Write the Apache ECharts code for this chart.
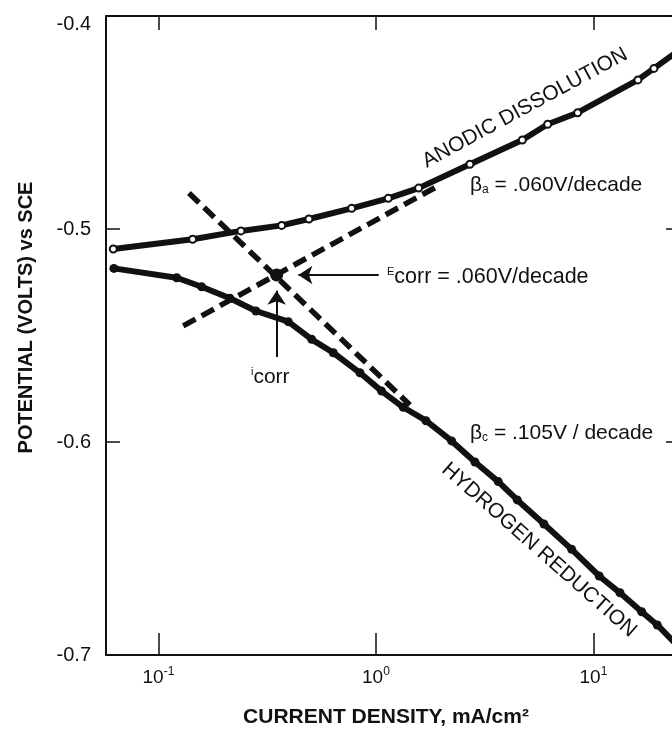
<!DOCTYPE html>
<html><head><meta charset="utf-8">
<script src="https://cdn.jsdelivr.net/npm/echarts@6/dist/echarts.min.js"></script>
<style>html,body{margin:0;padding:0;background:#fff}#c{width:672px;height:733px}</style>
</head><body><div id="c"></div>
<script>
// ---- data ----
const anodicCurrent = [0.0620, 0.1436, 0.2395, 0.3685, 0.492, 0.773, 1.139, 1.571, 2.705, 4.71, 6.16, 8.46, 16.02, 18.97, 26];
const anodicPotential = [-0.5094, -0.5048, -0.5009, -0.4983, -0.4953, -0.4903, -0.4856, -0.4808, -0.4696, -0.4582, -0.4508, -0.4454, -0.4300, -0.4246, -0.4145];
const cathodicCurrent = [0.0624, 0.1213, 0.1579, 0.2131, 0.2807, 0.3953, 0.5063, 0.6365, 0.8441, 1.062, 1.335, 1.698, 2.228, 2.852, 3.650, 4.464, 5.921, 7.941, 10.63, 13.24, 16.66, 19.65, 26];
const cathodicPotential = [-0.5185, -0.5229, -0.5271, -0.5325, -0.5385, -0.5435, -0.5518, -0.5581, -0.5675, -0.5761, -0.5837, -0.5900, -0.5995, -0.6094, -0.6186, -0.6272, -0.6385, -0.6504, -0.6629, -0.6708, -0.6797, -0.6859, -0.6985];
const tafelCathodicCurrent = [0.1381, 1.433];
const tafelCathodicPotential = [-0.4831, -0.5826];
const tafelAnodicCurrent = [0.130, 1.970];
const tafelAnodicPotential = [-0.5455, -0.4793];
const corrPoint = [0.3496, -0.5216];
const ecorrArrow = [[1.03, -0.5216], [0.44, -0.5216]];
const icorrArrow = [[0.3496, -0.5601], [0.3496, -0.5290]];
const yTicks = [-0.7, -0.6, -0.5, -0.4];
const xRange = [0.0574, 25];
const xTitle = 'CURRENT DENSITY, mA/cm²';
const yTitle = 'POTENTIAL (VOLTS) vs SCE';

const FF = '"Liberation Sans", Arial, Helvetica, sans-serif';
const INK = '#111';
const zip = (xs, ys) => xs.map((x, i) => [x, ys[i]]);
const lastNoSymbol = arr => arr.map((p, i) => i === arr.length - 1 ? { value: p, symbol: 'none' } : p);

const chart = echarts.init(document.getElementById('c'), null, { renderer: 'canvas' });

const supFmt = v => {
  const e = Math.log10(v);
  const r = Math.round(e);
  if (Math.abs(e - r) > 1e-6) return '';
  return '10{sup|' + r + '}';
};
const yFmt = v => {
  const s = v.toFixed(1);
  return Math.abs(v - yTicks[yTicks.length - 1]) < 1e-9 ? '{top|' + s + '}' : s;
};

const option = {
  animation: false,
  backgroundColor: '#fff',
  grid: { left: 106, top: 16, right: -8, bottom: 78, containLabel: false, outerBoundsMode: 'none' },
  xAxis: [
    {
      type: 'log', logBase: 10, min: xRange[0], max: xRange[1], position: 'bottom',
      axisLine: { lineStyle: { color: INK, width: 2 } },
      axisTick: { inside: true, length: 22, lineStyle: { color: INK, width: 1.5 } },
      axisLabel: {
        formatter: supFmt, color: INK, fontSize: 19, fontFamily: FF, margin: 11, lineHeight: 24,
        rich: { sup: { fontSize: 12, fontFamily: FF, color: INK, verticalAlign: 'top', lineHeight: 24 } },
        showMinLabel: true, showMaxLabel: true
      },
      splitLine: { show: false },
      name: xTitle, nameLocation: 'middle', nameGap: 52,
      nameTextStyle: { fontWeight: 'bold', fontSize: 21, fontFamily: FF, color: INK, padding: [0, 14, 0, 0] }
    },
    {
      type: 'log', logBase: 10, min: xRange[0], max: xRange[1], position: 'top',
      axisLine: { lineStyle: { color: INK, width: 2 } },
      axisTick: { inside: true, length: 14, lineStyle: { color: INK, width: 1.5 } },
      axisLabel: { show: false },
      splitLine: { show: false }
    }
  ],
  yAxis: [
    {
      type: 'value', min: yTicks[0], max: yTicks[yTicks.length - 1], interval: 0.1, position: 'left',
      axisLine: { show: true, lineStyle: { color: INK, width: 2 } },
      axisTick: { show: true, inside: true, length: 14, lineStyle: { color: INK, width: 1.5 } },
      axisLabel: {
        formatter: yFmt, color: INK, fontSize: 20, fontFamily: FF, margin: 15,
        rich: { top: { fontSize: 20, fontFamily: FF, color: INK, padding: [16, 0, 0, 0] } }
      },
      splitLine: { show: false },
      name: yTitle, nameLocation: 'middle', nameGap: 70, nameRotate: 90,
      nameTextStyle: { fontWeight: 'bold', fontSize: 20, fontFamily: FF, color: INK, padding: [0, 0, 0, 36] }
    },
    {
      type: 'value', min: yTicks[0], max: yTicks[yTicks.length - 1], interval: 0.1, position: 'right',
      axisLine: { show: false },
      axisTick: { show: true, inside: true, length: 14, lineStyle: { color: INK, width: 1.5 } },
      axisLabel: { show: false },
      splitLine: { show: false }
    }
  ],
  series: [
    {
      name: 'Tafel cathodic', type: 'line', data: zip(tafelCathodicCurrent, tafelCathodicPotential),
      symbol: 'none', lineStyle: { color: INK, width: 5.5, type: [14, 7] }, z: 2
    },
    {
      name: 'Tafel anodic', type: 'line', data: zip(tafelAnodicCurrent, tafelAnodicPotential),
      symbol: 'none', lineStyle: { color: INK, width: 5.5, type: [14, 7] }, z: 2
    },
    {
      name: 'Hydrogen reduction', type: 'line', data: lastNoSymbol(zip(cathodicCurrent, cathodicPotential)),
      symbol: 'circle', symbolSize: 9, itemStyle: { color: INK }, lineStyle: { color: INK, width: 6 }, z: 3
    },
    {
      name: 'Anodic dissolution', type: 'line', data: lastNoSymbol(zip(anodicCurrent, anodicPotential)),
      symbol: 'circle', symbolSize: 7, itemStyle: { color: '#fff', borderColor: INK, borderWidth: 2 },
      lineStyle: { color: INK, width: 6 }, z: 4
    },
    {
      name: 'Corrosion point', type: 'scatter', data: [corrPoint], symbolSize: 13,
      itemStyle: { color: INK, opacity: 1 }, z: 5,
      markLine: {
        silent: true, symbol: ['none', 'arrow'], symbolSize: 14,
        lineStyle: { color: INK, width: 2, type: 'solid', opacity: 1 }, label: { show: false },
        emphasis: { disabled: true },
        data: [
          [{ coord: ecorrArrow[0] }, { coord: ecorrArrow[1] }],
          [{ coord: icorrArrow[0] }, { coord: icorrArrow[1] }]
        ]
      }
    }
  ],
  graphic: [
    { type: 'text', x: 525, y: 108, rotation: 0.497, z: 10,
      style: { text: 'ANODIC DISSOLUTION', fontSize: 21, fontFamily: FF, fill: INK, align: 'center', verticalAlign: 'middle' } },
    { type: 'text', x: 539, y: 550, rotation: -0.724, z: 10,
      style: { text: 'HYDROGEN REDUCTION', fontSize: 21, fontFamily: FF, fill: INK, align: 'center', verticalAlign: 'middle' } },
    { type: 'text', x: 470, y: 185, z: 10,
      style: { text: 'β{sub|a} = .060V/decade', fontSize: 21, fontFamily: FF, fill: INK, align: 'left', verticalAlign: 'middle',
        rich: { sub: { fontSize: 12, fontFamily: FF, fill: INK, verticalAlign: 'bottom' } } } },
    { type: 'text', x: 470, y: 433, z: 10,
      style: { text: 'β{sub|c} = .105V / decade', fontSize: 21, fontFamily: FF, fill: INK, align: 'left', verticalAlign: 'middle',
        rich: { sub: { fontSize: 12, fontFamily: FF, fill: INK, verticalAlign: 'bottom' } } } },
    { type: 'text', x: 387, y: 277, z: 10,
      style: { text: '{sup|E}corr = .060V/decade', fontSize: 21.5, fontFamily: FF, fill: INK, align: 'left', verticalAlign: 'middle',
        rich: { sup: { fontSize: 11, fontFamily: FF, fill: INK, verticalAlign: 'top' } } } },
    { type: 'text', x: 251, y: 377, z: 10,
      style: { text: '{sup|i}corr', fontSize: 21, fontFamily: FF, fill: INK, align: 'left', verticalAlign: 'middle',
        rich: { sup: { fontSize: 11, fontFamily: FF, fill: INK, verticalAlign: 'top' } } } }
  ]
};
chart.setOption(option);
</script>
</body></html>
